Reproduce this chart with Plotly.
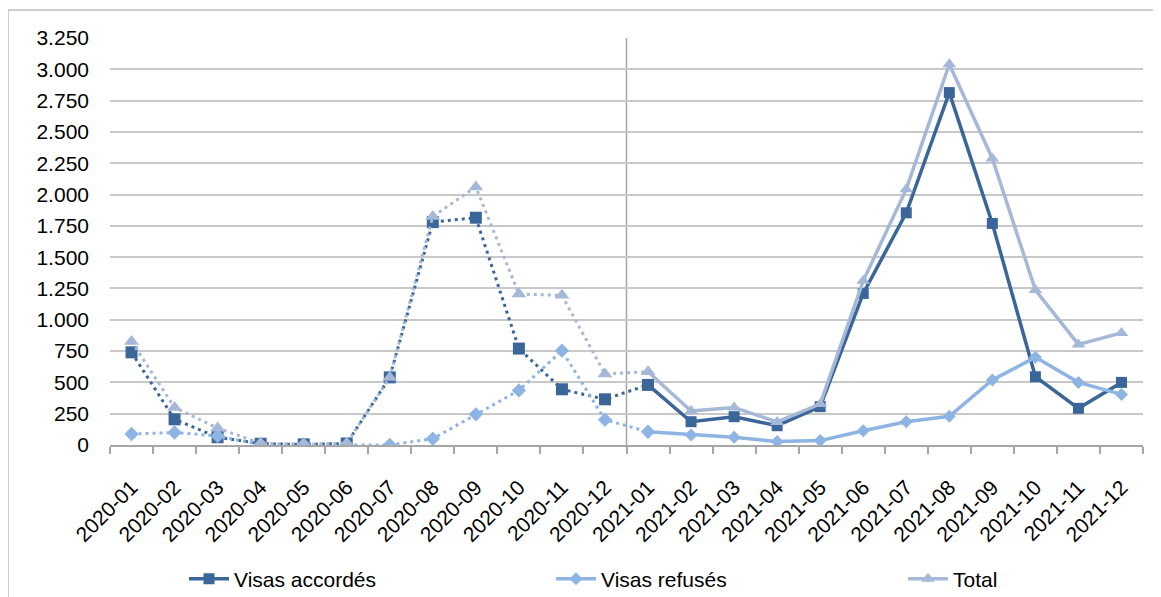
import plotly.graph_objects as go

months = ["2020-01", "2020-02", "2020-03", "2020-04", "2020-05", "2020-06",
          "2020-07", "2020-08", "2020-09", "2020-10", "2020-11", "2020-12",
          "2021-01", "2021-02", "2021-03", "2021-04", "2021-05", "2021-06",
          "2021-07", "2021-08", "2021-09", "2021-10", "2021-11", "2021-12"]

visas_accordes = [740, 205, 62, 10, 5, 12, 540, 1780, 1815, 770, 445, 365,
                  480, 186, 226, 154, 306, 1210, 1854, 2814, 1769, 545, 293, 500]
visas_refuses = [88, 100, 72, 3, 2, 2, 0, 50, 245, 436, 753, 202,
                 106, 80, 61, 27, 35, 114, 186, 229, 519, 700, 500, 404]
total = [827, 300, 135, 13, 7, 14, 540, 1825, 2060, 1205, 1195, 567,
         585, 272, 300, 184, 327, 1311, 2043, 3040, 2288, 1237, 803, 895]

series = [
    ("Visas accordés", visas_accordes, "#3A6699", "square", 12, "legend"),
    ("Visas refusés", visas_refuses, "#8DB4E2", "diamond", 11, "legend2"),
    ("Total", total, "#A5B8D7", "triangle-up", 13, "legend3"),
]

FONT = "Liberation Sans, Arial, sans-serif"
split = 12  # index of 2021-01

fig = go.Figure()
# dotted 2020 parts (drawn first)
for name, vals, color, sym, size, leg in series:
    fig.add_trace(go.Scatter(
        x=months[:split + 1], y=vals[:split + 1], mode="lines+markers",
        line=dict(color=color, width=3, dash="3px,4px"),
        marker=dict(symbol=sym, size=size, color=color, line=dict(width=0)),
        showlegend=False, hoverinfo="skip"))
# solid 2021 parts
for name, vals, color, sym, size, leg in series:
    fig.add_trace(go.Scatter(
        x=months[split:], y=vals[split:], mode="lines+markers", name=name,
        line=dict(color=color, width=3.5),
        marker=dict(symbol=sym, size=size - 1, color=color, line=dict(width=0)),
        legend=leg))

# page body has an 8px margin: work in screen coordinates, convert to figure coords
OFF = 8
W, H = 1161 - OFF, 597 - OFF
plot_l, plot_r, plot_t, plot_b = 110 - OFF, 1143 - OFF, 38 - OFF, 445 - OFF
L, R, T, B = plot_l, W - plot_r, plot_t, H - plot_b
pw, ph = plot_r - plot_l, plot_b - plot_t


def px(xs):
    return (xs - OFF - plot_l) / pw


def py(ys):
    return (plot_b - (ys - OFF)) / ph


legend_common = dict(orientation="h", yanchor="middle", y=py(579), xanchor="left",
                     font=dict(family=FONT, size=21, color="#000000"),
                     bgcolor="rgba(0,0,0,0)", itemwidth=40)

fig.update_layout(
    width=W, height=H,
    margin=dict(l=L, r=R, t=T, b=B, autoexpand=False),
    paper_bgcolor="white", plot_bgcolor="white",
    separators=",.",
    font=dict(family=FONT, size=21, color="#000000"),
    legend=dict(x=px(235 - 51), **legend_common),
    legend2=dict(x=px(602 - 51), **legend_common),
    legend3=dict(x=px(954 - 51), **legend_common),
    xaxis=dict(type="category", categoryorder="array", categoryarray=months,
               range=[-0.5, 23.5], tickangle=-45, ticks="outside", tickson="boundaries",
               ticklen=7, tickcolor="#A6A6A6", tickwidth=1.5, showline=True,
               linecolor="#A6A6A6", linewidth=1.5, showgrid=False,
               ticklabelstandoff=20, automargin=False,
               tickfont=dict(family=FONT, size=21, color="#000000")),
    yaxis=dict(range=[0, 3250], dtick=250, tickformat=",d", showgrid=True,
               gridcolor="#C8C8C8", gridwidth=1.5, zeroline=False, showline=False,
               ticks="", ticklabelstandoff=20, automargin=False,
               tickfont=dict(family=FONT, size=21, color="#000000")),
    shapes=[
        dict(type="line", xref="x", yref="paper", x0=11.5, x1=11.5, y0=0, y1=1,
             line=dict(color="#A6A6A6", width=1.5), layer="below"),
        dict(type="rect", xref="paper", yref="paper", x0=px(8), x1=px(1200),
             y0=py(640), y1=py(10), line=dict(color="#BFBFBF", width=1.5),
             fillcolor="rgba(0,0,0,0)", layer="below"),
    ],
)

fig.write_html("out.html")
